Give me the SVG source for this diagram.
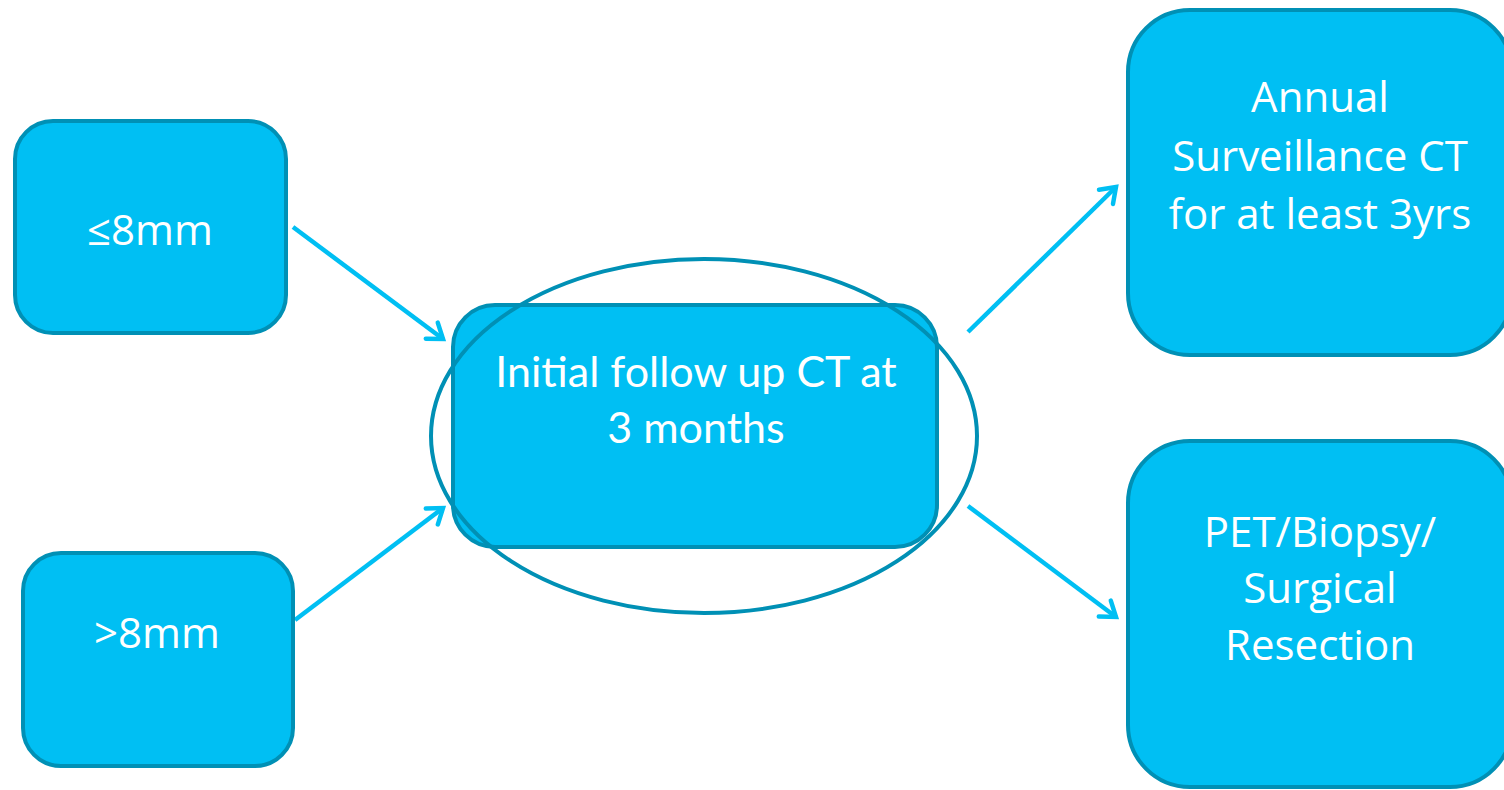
<svg xmlns="http://www.w3.org/2000/svg" width="1504" height="790" viewBox="0 0 1504 790">
  <style>
    .box { fill: #00bff3; stroke: #0090b5; stroke-width: 4; }
    .ring { fill: none; stroke: #0090b5; stroke-width: 4; }
    .lbl { fill: #ffffff; font-family: "Open Sans", "Liberation Sans", sans-serif; font-size: 42px; text-anchor: middle; }
    .lbl-c { fill: #ffffff; font-family: "Lato", "Liberation Sans", sans-serif; font-size: 43px; text-anchor: middle; }
    .conn { stroke: #00bff3; stroke-width: 4.5; fill: none; marker-end: url(#chev); }
  </style>
  <defs>
    <marker id="chev" viewBox="0 0 12 12" refX="10" refY="6" markerWidth="12" markerHeight="12" markerUnits="userSpaceOnUse" orient="auto" overflow="visible">
      <path d="M-4,-4 L10,6 L-4,16" fill="none" stroke="#00bff3" stroke-width="4.5" stroke-linecap="round" stroke-linejoin="miter"/>
    </marker>
  </defs>

  <rect width="1504" height="790" fill="#ffffff"/>

  <g id="connectors">
    <line class="conn" x1="293" y1="227" x2="443" y2="339"/>
    <line class="conn" x1="295" y1="620" x2="443" y2="508"/>
    <line class="conn" x1="968" y1="332" x2="1116" y2="187"/>
    <line class="conn" x1="968" y1="506" x2="1116" y2="617"/>
  </g>

  <g id="node-small">
    <rect class="box" x="15" y="121" width="271" height="212" rx="38"/>
    <text class="lbl" x="150" y="245">≤8mm</text>
  </g>

  <g id="node-large">
    <rect class="box" x="23" y="553" width="270" height="213" rx="38"/>
    <text class="lbl" x="157" y="648">&gt;8mm</text>
  </g>

  <g id="node-initial">
    <rect class="box" x="453" y="305" width="484" height="242" rx="42"/>
    <ellipse class="ring" cx="704" cy="436" rx="273" ry="177"/>
    <text class="lbl-c" x="696" y="387">Initial follow up CT at</text>
    <text class="lbl-c" x="696" y="443">3 months</text>
  </g>

  <g id="node-annual">
    <rect class="box" x="1128" y="10" width="384" height="345" rx="62"/>
    <text class="lbl" x="1320" y="112">Annual</text>
    <text class="lbl" x="1320" y="171">Surveillance CT</text>
    <text class="lbl" x="1320" y="229">for at least 3yrs</text>
  </g>

  <g id="node-pet">
    <rect class="box" x="1128" y="441" width="384" height="346" rx="62"/>
    <text class="lbl" x="1320" y="547">PET/Biopsy/</text>
    <text class="lbl" x="1320" y="603">Surgical</text>
    <text class="lbl" x="1320" y="660">Resection</text>
  </g>
</svg>
